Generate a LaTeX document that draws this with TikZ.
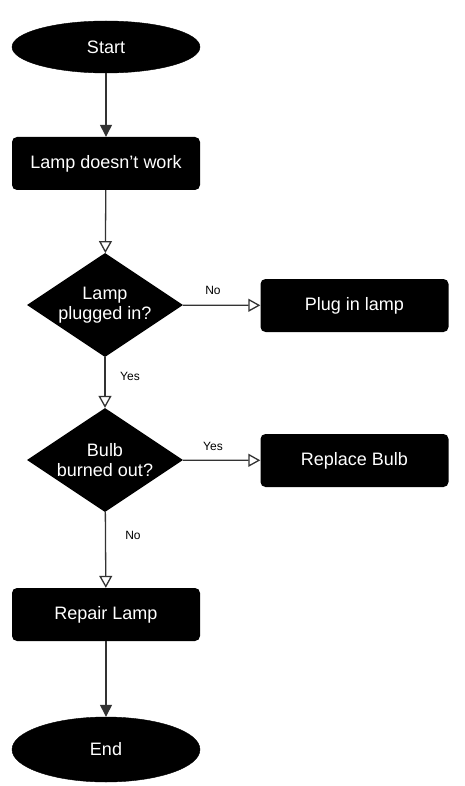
\documentclass[tikz,border=0pt]{standalone}
\usepackage{fontspec}
\setmainfont{Liberation Sans}
\usetikzlibrary{shapes.geometric,arrows.meta}
\tikzset{
  term/.style={ellipse, fill=black, draw=black, text=white, minimum width=188pt, inner sep=0pt, font=\fontsize{18}{21}\selectfont},
  procbox/.style={rectangle, rounded corners=5pt, fill=black, text=white, minimum width=188pt, minimum height=53pt, inner sep=0pt, font=\fontsize{18}{21}\selectfont},
  decide/.style={diamond, aspect=1.5, fill=black, text=white, minimum width=156pt, minimum height=104pt, inner sep=0pt, align=center, font=\fontsize{18}{20}\selectfont},
  lbl/.style={font=\fontsize{12}{14}\selectfont, inner sep=0pt},
  conn/.style={line width=1.3pt, draw=black!80},
  solidtip/.style={conn, -{Triangle[width=12pt,length=12pt]}},
  opentip/.style={conn, -{Triangle[open,width=13pt,length=12pt,fill=white]}},
}
\begin{document}
\begin{tikzpicture}[x=1pt,y=-1pt]
\useasboundingbox (0,0) rectangle (464,786);
\node[term, minimum height=52pt] (start) at (106,47) {Start};
\node[procbox] (notwork) at (106,163.5) {Lamp doesn't work};
\node[decide] (plugged) at (105,305) {Lamp\\plugged in?};
\node[procbox] (plugin) at (354.5,305.5) {Plug in lamp};
\node[decide] (burned) at (105,460) {Bulb\\burned out?};
\node[procbox] (replace) at (354.5,460.5) {Replace Bulb};
\node[procbox] (repair) at (106,614.5) {Repair Lamp};
\node[term, minimum height=65pt] (end) at (106,749.5) {End};

\node[lbl] (lno) at (213,290) {No};
\node[lbl] (lyes1) at (130,376) {Yes};
\node[lbl] (lyes2) at (213,446) {Yes};
\node[lbl] (lno2) at (133,535) {No};

\draw[solidtip] (start) -- (notwork);
\draw[opentip] (notwork) -- (plugged);
\draw[opentip] (plugged) -- (plugin);
\draw[opentip] (plugged) -- (burned);
\draw[opentip] (burned) -- (replace);
\draw[opentip] (burned) -- (repair);
\draw[solidtip] (repair) -- (end);
\end{tikzpicture}
\end{document}
